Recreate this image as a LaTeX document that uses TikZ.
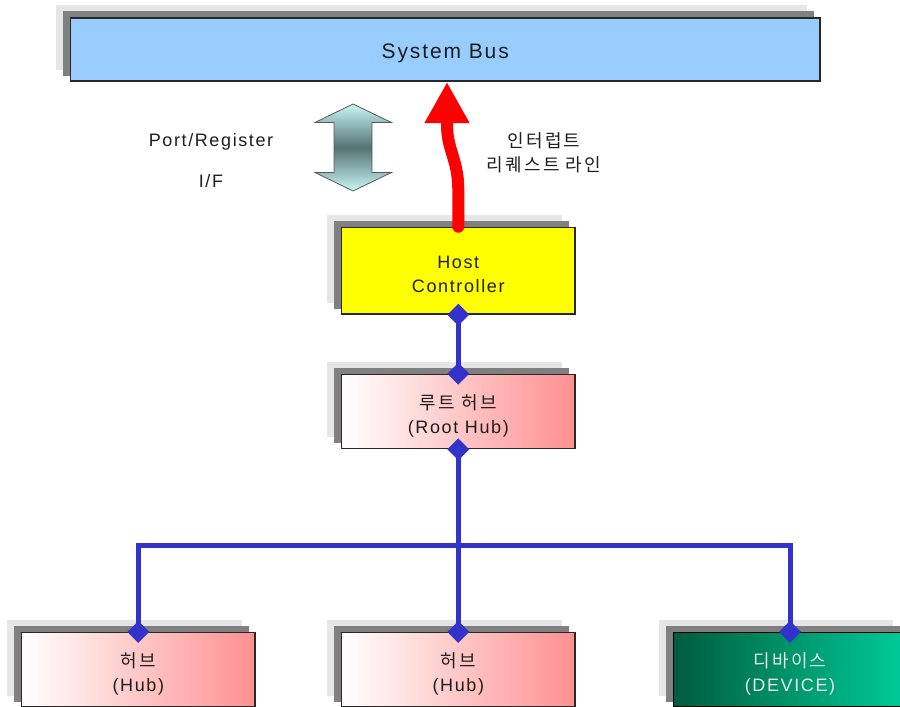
\documentclass[tikz,border=0pt]{standalone}
\usepackage{fontspec}
\newfontfamily\latf{Liberation Sans}[LetterSpace=9]
\newfontfamily\krf{Noto Sans CJK KR}[LetterSpace=12]
\usetikzlibrary{shapes.geometric,arrows.meta,backgrounds}

\definecolor{busblue}{RGB}{153,204,255}
\definecolor{hcyellow}{RGB}{255,255,0}
\definecolor{hubred}{RGB}{255,143,143}
\definecolor{devdark}{RGB}{0,92,62}
\definecolor{devlight}{RGB}{0,204,153}
\definecolor{devtext}{RGB}{232,232,232}
\definecolor{linkblue}{RGB}{51,51,204}
\definecolor{shadowdark}{RGB}{128,128,128}
\definecolor{shadowlight}{RGB}{230,230,230}
\definecolor{boxline}{RGB}{40,40,40}
\definecolor{txtc}{RGB}{30,30,30}
\definecolor{pipelight}{RGB}{200,246,246}
\definecolor{pipedark}{RGB}{84,114,114}

\newcommand\latsize{\fontsize{18}{24}\selectfont\latf}
\newcommand\korsize{\fontsize{18}{24}\selectfont\krf}
% extra head room on a box's first text line sets its text 4pt lower
\newcommand\lowline[1]{\raisebox{0pt}[\dimexpr\height+8pt\relax]{#1}}

\tikzset{
  box/.style={draw=boxline, line width=1.2pt, minimum width=233.3pt,
    inner sep=0pt, text=txtc, align=center, font=\latsize},
  hubbox/.style={box, left color=white, right color=hubred, minimum height=74.4pt},
  devbox/.style={box, draw=black, left color=devdark, right color=devlight,
    text=devtext, minimum height=74.4pt},
  link/.style={draw=linkblue, line width=5pt},
  joint/.style={diamond, fill=linkblue, minimum size=22pt, inner sep=0pt},
  irq/.style={draw=red, line width=12pt, line cap=round,
    -{Triangle[length=41pt,width=42pt]}},
  caption/.style={text=txtc, align=center, font=\latsize}
}

\begin{document}
\begin{tikzpicture}[x=1pt,y=-1pt]
\useasboundingbox (0,0) rectangle (900,707);

% boxes
\node[box, fill=busblue, minimum width=749.5pt, minimum height=63pt,
  font=\fontsize{21}{25}\selectfont\latf] (bus) at (445.2,49.5) {\lowline{System Bus}};
\node[box, fill=hcyellow, minimum height=86.7pt] (hc) at (458.3,270.7)
  {\lowline{Host}\\Controller};
\node[hubbox] (rh) at (458.3,411.5)
  {\korsize\lowline{루트 허브}\\\latsize (Root Hub)};
\node[hubbox] (hub1) at (138.3,669.7)
  {\korsize\lowline{허브}\\\latsize (Hub)};
\node[hubbox] (hub2) at (458.3,669.7)
  {\korsize\lowline{허브}\\\latsize (Hub)};
\node[devbox] (dev) at (790,669.7)
  {\korsize\lowline{디바이스}\\\latsize (DEVICE)};

% stacked drop shadows behind every box
\begin{scope}[on background layer]
\foreach \n in {bus,hc,rh,hub1,hub2,dev}{
  \fill[shadowlight] ([shift={(-14,-12)}]\n.south west) rectangle ([shift={(-14,-12)}]\n.north east);
  \fill[shadowdark] ([shift={(-7,-6)}]\n.south west) rectangle ([shift={(-7,-6)}]\n.north east);
}
\end{scope}

% bus tree
\coordinate (split) at (rh.south |- 0,545);
\draw[link] (hc.south) -- (rh.north);
\draw[link] (rh.south) -- (split) -- (hub2.north);
\draw[link] (hub1.north) |- (split) -| (dev.north);

\node[joint] (jhc) at (hc.south) {};
\node[joint] (jrt) at (rh.north) {};
\node[joint] (jrb) at (rh.south) {};
\node[joint] (jh1) at (hub1.north) {};
\node[joint] (jh2) at (hub2.north) {};
\node[joint] (jdv) at (dev.north) {};

% port/register interface arrow
\shadedraw[draw=black!65, line width=0.8pt, top color=pipelight, bottom color=pipelight,
  middle color=pipedark]
  (353,104) -- (391.5,122.5) -- (372,122.5) -- (372,172.5) -- (391.5,172.5)
  -- (353,191) -- (315,172.5) -- (334,172.5) -- (334,122.5) -- (315,122.5) -- cycle;

% interrupt request line
\coordinate (irqbend) at (447,125);
\coordinate (irqtip) at (447,82);
\draw[irq] (hc.north) -- ++(0,-37) .. controls +(0,-30) and +(0,25) .. (irqbend) -- (irqtip);

% labels
\node[caption] (pr) at (211,142) {Port/Register};
\node[caption] (pif) at (211,181) {I/F};
\node[caption, font=\korsize] (irqlab) at (544,153) {인터럽트\\리퀘스트 라인};
\end{tikzpicture}
\end{document}
